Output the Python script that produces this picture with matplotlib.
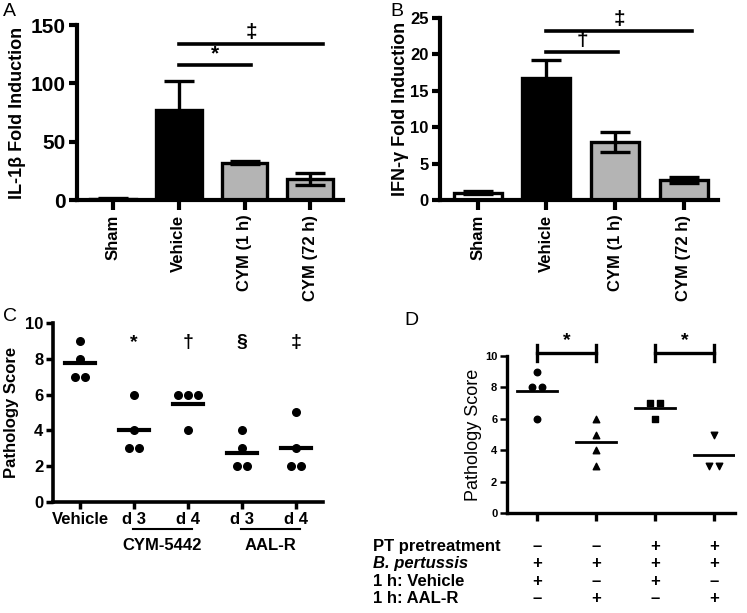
import numpy as np
import matplotlib.pyplot as plt
from matplotlib.transforms import blended_transform_factory

plt.rcParams['font.family'] = ['Liberation Sans', 'DejaVu Sans']
plt.rcParams['font.weight'] = 'bold'
plt.rcParams['axes.labelweight'] = 'bold'

# data
bar_groups = ['Sham', 'Vehicle', 'CYM (1 h)', 'CYM (72 h)']
bar_colors = ['white', 'black', '#b4b4b4', '#b4b4b4']
il1b_mean = [1, 77, 32, 18]
il1b_err = [0.5, 25, 1.5, 5]
ifng_mean = [1.0, 16.8, 8.0, 2.8]
ifng_err = [0.2, 2.5, 1.4, 0.4]

c_groups = ['Vehicle', 'd 3', 'd 4', 'd 3', 'd 4']
c_scores = [[9, 8, 7, 7], [6, 4, 3, 3], [6, 6, 6, 4], [4, 3, 2, 2], [5, 3, 2, 2]]
c_marks = ['', '*', '†', '§', '‡']

d_scores = [[9, 8, 8, 6], [6, 5, 4, 3], [7, 7, 6], [5, 3, 3]]
d_markers = ['o', '^', 's', 'v']
d_rows = ['PT pretreatment', 'B. pertussis', '1 h: Vehicle', '1 h: AAL-R']
d_table = [['–', '–', '+', '+'],
           ['+', '+', '+', '+'],
           ['+', '–', '+', '–'],
           ['–', '+', '–', '+']]


def spread(vals, step):
    # put tied values side by side, like a dot plot
    xs = []
    for i, v in enumerate(vals):
        n = vals.count(v)
        k = vals[:i].count(v)
        xs.append((k - (n - 1) / 2) * step)
    return np.array(xs)


fig = plt.figure(figsize=(7.47, 6.13), dpi=100)


def bar_panel(rect, means, errs, ymax, ystep, ylabel, labx, ticksize, sigs):
    ax = fig.add_axes(rect)
    x = np.arange(len(bar_groups))
    ax.bar(x, means, width=0.7, color=bar_colors, edgecolor='black', linewidth=2.4, zorder=2)
    ax.errorbar(x, means, yerr=errs, fmt='none', ecolor='black', elinewidth=2.4,
                capsize=11, capthick=2.4, zorder=3)
    ax.set_xlim(-0.55, 3.5)
    ax.set_ylim(0, ymax)
    ax.set_yticks(np.arange(0, ymax + 1, ystep))
    ax.set_xticks(x)
    ax.set_xticklabels(bar_groups, rotation=90, fontsize=12)
    ax.tick_params(axis='y', labelsize=ticksize, width=3, length=6, pad=2)
    ax.tick_params(axis='x', width=3, length=7)
    for s in ['top', 'right']:
        ax.spines[s].set_visible(False)
    for s in ['left', 'bottom']:
        ax.spines[s].set_linewidth(3)
    ax.set_ylabel(ylabel, fontsize=13)
    ax.yaxis.set_label_coords(labx, 0.5)
    for x0, x1, y, sym in sigs:
        ax.plot([x0, x1], [y, y], color='black', lw=2.6, clip_on=False)
        ax.text((x0 + x1) / 2, y + ymax * 0.01, sym, ha='center', va='bottom', fontsize=15)
    return ax


bar_panel([0.1031, 0.6737, 0.3561, 0.2855], il1b_mean, il1b_err, 150, 50,
          'IL-1β Fold Induction', -0.19, 15,
          [(1, 2.1, 116, '*'), (1, 3.2, 134, '‡')])
bar_panel([0.589, 0.6737, 0.3722, 0.2969], ifng_mean, ifng_err, 25, 5,
          'IFN-γ Fold Induction', -0.112, 12,
          [(1, 2.05, 20.3, '†'), (1, 3.12, 23.2, '‡')])

# panel C
axc = fig.add_axes([0.0710, 0.1811, 0.3614, 0.2920])
for i, vals in enumerate(c_scores):
    axc.scatter(i + spread(vals, 0.19), vals, s=30, color='black', zorder=3)
    m = np.mean(vals)
    axc.plot([i - 0.28, i + 0.28], [m, m], color='black', lw=3)
    axc.text(i, 8.65, c_marks[i], ha='center', va='baseline', fontsize=14)
axc.set_xlim(-0.5, 4.5)
axc.set_ylim(0, 10)
axc.set_yticks(np.arange(0, 11, 2))
axc.set_xticks(range(len(c_groups)))
axc.set_xticklabels(c_groups, fontsize=12)
axc.tick_params(axis='y', labelsize=12, width=2.5, length=5, pad=2)
axc.tick_params(axis='x', width=2.5, length=5, pad=2)
for s in ['top', 'right']:
    axc.spines[s].set_visible(False)
for s in ['left', 'bottom']:
    axc.spines[s].set_linewidth(2.6)
axc.set_ylabel('Pathology Score', fontsize=12)
axc.yaxis.set_label_coords(-0.125, 0.5)
for x0, name in [(1, 'CYM-5442'), (3, 'AAL-R')]:
    axc.plot([x0 - 0.02, x0 + 1.07], [-0.15, -0.15], color='black', lw=1.5,
             transform=axc.get_xaxis_transform(), clip_on=False)
    axc.text(x0 + 0.52, -0.2, name, ha='center', va='top', fontsize=12,
             transform=axc.get_xaxis_transform())

# panel D
axd = fig.add_axes([0.6787, 0.1631, 0.3052, 0.2561])
for i, vals in enumerate(d_scores):
    axd.scatter(i + spread(vals, 0.17), vals, s=22, marker=d_markers[i], color='black', zorder=3)
    m = np.mean(vals)
    axd.plot([i - 0.34, i + 0.34], [m, m], color='black', lw=2)
for x0, x1 in [(0, 1), (2, 3)]:
    axd.plot([x0, x1], [10.2, 10.2], color='black', lw=2.4, clip_on=False)
    for xx in (x0, x1):
        axd.plot([xx, xx], [9.7, 10.7], color='black', lw=2.4, clip_on=False)
    axd.text((x0 + x1) / 2, 10.45, '*', ha='center', va='bottom', fontsize=14)
axd.set_xlim(-0.51, 3.36)
axd.set_ylim(0, 10)
axd.set_yticks(np.arange(0, 11, 2))
axd.set_xticks(range(len(d_scores)))
axd.set_xticklabels([])
axd.tick_params(axis='y', labelsize=8, width=1.8, length=5, pad=2)
axd.tick_params(axis='x', width=2.4, length=6)
for s in ['top', 'right']:
    axd.spines[s].set_visible(False)
for s in ['left', 'bottom']:
    axd.spines[s].set_linewidth(2.4)
axd.set_ylabel('Pathology Score', fontsize=13, fontweight='normal')
axd.yaxis.set_label_coords(-0.11, 0.5)

trans = blended_transform_factory(axd.transData, fig.transFigure)
row_y = [0.109, 0.080, 0.052, 0.023]
for r, name in enumerate(d_rows):
    if name.startswith('B.'):
        fig.text(0.4993, row_y[r], name, ha='left', va='center', fontsize=12, style='italic')
    else:
        fig.text(0.4993, row_y[r], name, ha='left', va='center', fontsize=12)
    for c, sym in enumerate(d_table[r]):
        axd.text(c, row_y[r], sym, ha='center', va='center', fontsize=12, transform=trans)

# panel letters
fig.text(0.004, 0.995, 'A', ha='left', va='top', fontsize=14, fontweight='normal')
fig.text(0.522, 0.995, 'B', ha='left', va='top', fontsize=14, fontweight='normal')
fig.text(0.004, 0.497, 'C', ha='left', va='top', fontsize=14, fontweight='normal')
fig.text(0.542, 0.491, 'D', ha='left', va='top', fontsize=14, fontweight='normal')

fig.savefig('out.png', dpi=100)
